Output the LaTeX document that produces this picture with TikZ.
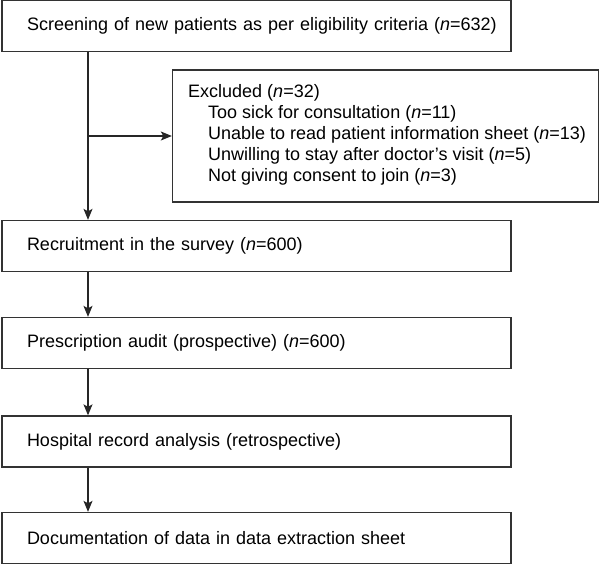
\documentclass[tikz,border=0pt]{standalone}
\usepackage{fontspec}
\setmainfont{Liberation Sans}
\usetikzlibrary{arrows.meta}
\begin{document}
\begin{tikzpicture}[x=1pt,y=-1pt,
  box/.style={draw=black!80,line width=1.3pt,rectangle,minimum width=509pt,minimum height=51pt,
    inner xsep=0pt,inner ysep=0pt,text width=509pt,align=left,
    execute at begin node={\hspace*{25pt}},
    font=\fontsize{18pt}{21pt}\selectfont},
  exbox/.style={draw=black!80,line width=1.3pt,rectangle,minimum width=426pt,minimum height=132pt,inner sep=0pt},
  extext/.style={inner sep=0pt,align=left,anchor=north west,font=\fontsize{18pt}{21pt}\selectfont},
  arr/.style={draw=black!85,line width=1.3pt,-{Stealth[length=11pt,width=9pt,inset=2.5pt]}}]
\useasboundingbox (0,0) rectangle (600,565);
\node[box] (b1) at (256.5,26) {Screening of new patients as per eligibility criteria (\textit{n}=632)};
\node[exbox] (ex) at (385.5,136) {};
\node[extext] (ext) at (188,84) {Excluded (\textit{n}=32)\\
\hspace*{20pt}Too sick for consultation (\textit{n}=11)\\
\hspace*{20pt}Unable to read patient information sheet (\textit{n}=13)\\
\hspace*{20pt}Unwilling to stay after doctor’s visit (\textit{n}=5)\\
\hspace*{20pt}Not giving consent to join (\textit{n}=3)};
\node[box] (b2) at (256.5,246) {Recruitment in the survey (\textit{n}=600)};
\node[box] (b3) at (256.5,343) {Prescription audit (prospective) (\textit{n}=600)};
\node[box] (b4) at (256.5,441.5) {Hospital record analysis (retrospective)};
\node[box] (b5) at (256.5,538) {Documentation of data in data extraction sheet};
\coordinate (sp) at (88,0);
\coordinate (br) at (88,136);
\draw[arr] (b1.south -| sp) -- (b2.north -| sp);
\draw[arr] (br) -- (ex.west);
\draw[arr] (b2.south -| sp) -- (b3.north -| sp);
\draw[arr] (b3.south -| sp) -- (b4.north -| sp);
\draw[arr] (b4.south -| sp) -- (b5.north -| sp);
\end{tikzpicture}
\end{document}
